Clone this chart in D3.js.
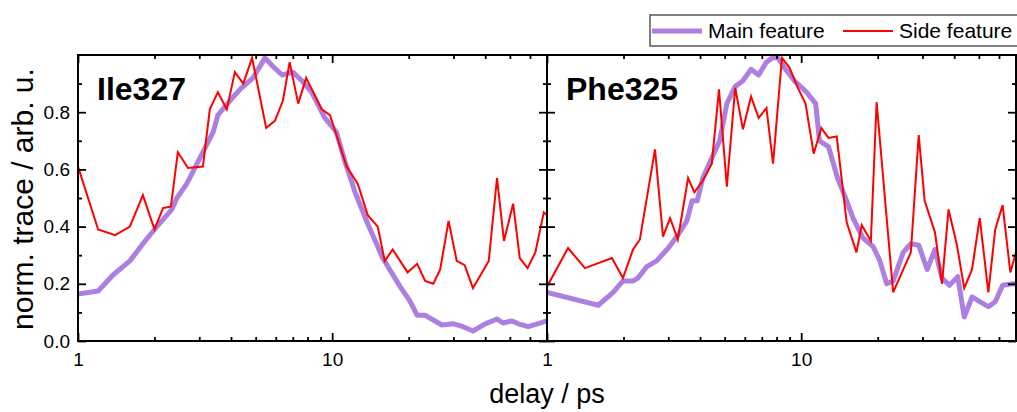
<!DOCTYPE html>
<html>
<head>
<meta charset="utf-8">
<script src="https://cdn.jsdelivr.net/npm/d3@7"></script>
<style>
body { margin: 0; background: #fff; }
svg { display: block; }
text { font-family: "Liberation Sans", Arial, sans-serif; fill: #000; }
</style>
</head>
<body>
<div id="root"></div>
<script>
// delay (ps), normalized trace
var ileMain = [[1,0.164],[1.2,0.175],[1.37,0.23],[1.6,0.28],[1.8,0.34],[2.0,0.39],[2.34,0.46],[2.45,0.50],[2.68,0.55],[2.94,0.62],
  [3.4,0.73],[3.55,0.79],[3.96,0.84],[4.34,0.88],[4.88,0.92],[5.44,0.99],[5.85,0.96],[6.35,0.93],[7.0,0.94],[7.6,0.91],
  [8.3,0.87],[9.35,0.78],[10.4,0.73],[11.2,0.63],[12.3,0.52],[13.8,0.41],[15.8,0.29],[18.5,0.19],[20.2,0.14],[21.6,0.09],
  [23.2,0.09],[27,0.056],[30,0.06],[32.8,0.05],[35.8,0.035],[40,0.06],[44.5,0.077],[47,0.063],[51,0.07],[54,0.06],[59,0.05],[70,0.07]];
var ileSide = [[1,0.61],[1.2,0.39],[1.4,0.37],[1.6,0.40],[1.8,0.51],[2.0,0.39],[2.16,0.465],[2.32,0.47],[2.47,0.66],[2.71,0.605],
  [3.1,0.61],[3.3,0.81],[3.55,0.87],[3.85,0.81],[4.14,0.94],[4.47,0.90],[4.84,0.99],[5.5,0.745],[5.95,0.77],[6.4,0.84],
  [6.8,0.975],[7.35,0.83],[7.9,0.92],[9.1,0.81],[9.8,0.79],[11.4,0.61],[12.6,0.55],[13.8,0.44],[15.1,0.40],[16.1,0.28],
  [17.3,0.32],[19.8,0.24],[21.6,0.27],[23.2,0.21],[25,0.20],[26.6,0.25],[28.7,0.42],[30.9,0.28],[33.2,0.265],[35.8,0.185],
  [41.3,0.28],[44.5,0.57],[47.4,0.35],[51.5,0.48],[54.7,0.29],[58.7,0.255],[63,0.31],[68,0.45],[70,0.44]];
var pheMain = [[1,0.17],[1.59,0.125],[1.82,0.17],[1.99,0.21],[2.18,0.21],[2.28,0.22],[2.47,0.26],[2.7,0.28],[3.0,0.325],[3.27,0.37],
  [3.55,0.42],[3.72,0.49],[3.9,0.49],[4.1,0.57],[4.45,0.64],[4.78,0.70],[5.1,0.83],[5.5,0.89],[5.9,0.91],[6.35,0.95],
  [6.8,0.93],[7.3,0.975],[7.7,0.99],[8.1,0.99],[8.6,0.955],[9.4,0.91],[10.5,0.87],[11.4,0.83],[11.8,0.70],[12.8,0.68],
  [13.9,0.57],[15.1,0.49],[16,0.43],[17.5,0.36],[19.2,0.33],[20.4,0.28],[21.7,0.20],[23,0.21],[25.2,0.31],[27,0.34],
  [29,0.335],[31.3,0.25],[33.6,0.32],[35.8,0.22],[38.3,0.195],[41.3,0.225],[43.8,0.084],[47,0.154],[50.8,0.136],[54.5,0.12],
  [58,0.137],[62,0.195],[68,0.2],[70,0.2]];
var pheSide = [[1,0.19],[1.21,0.325],[1.41,0.255],[1.8,0.29],[1.99,0.22],[2.18,0.32],[2.32,0.355],[2.66,0.67],[2.86,0.365],[3.05,0.43],
  [3.27,0.355],[3.59,0.57],[3.8,0.52],[4.1,0.56],[4.45,0.62],[4.75,0.88],[5.1,0.54],[5.5,0.885],[5.9,0.74],[6.35,0.855],
  [6.8,0.78],[7.3,0.815],[7.75,0.62],[8.4,0.99],[9.0,0.955],[9.7,0.885],[10.4,0.83],[11.2,0.655],[12.0,0.745],[12.8,0.71],
  [13.8,0.715],[15.1,0.415],[16.5,0.31],[17.3,0.405],[18.8,0.35],[19.8,0.835],[23,0.17],[27,0.31],[29,0.72],[30.6,0.49],
  [33.6,0.38],[35.8,0.20],[38,0.46],[41,0.335],[43.8,0.185],[47,0.25],[50.4,0.43],[54.5,0.17],[58,0.39],[62,0.475],
  [66.5,0.24],[70,0.31]];

var panelNames = ["Ile327", "Phe325"];
var seriesNames = ["Main feature", "Side feature"];
var xMajor = [1, 10];
var xMinor = [2, 3, 4, 5, 6, 7, 8, 9, 20, 30, 40, 50, 60];
var yMajor = [0, 0.2, 0.4, 0.6, 0.8];
var yMinor = [0.1, 0.3, 0.5, 0.7, 0.9];

var mainColor = "#ad7fe0", sideColor = "#ff0000";
var top_ = 55, bottom = 341;
var panelX = [[78, 547], [547, 1016]];
var panelData = [[ileMain, ileSide], [pheMain, pheSide]];

var svg = d3.select("#root").append("svg")
  .attr("width", 1017).attr("height", 412);

var y = d3.scaleLinear().domain([0, 1]).range([bottom, top_]);

function styleAxis(g, labels) {
  g.select(".domain").remove();
  g.selectAll(".tick line").attr("stroke", "#000").attr("stroke-width", 1.8);
  g.selectAll(".tick text").attr("font-size", 19).attr("fill", "#000")
    .style("font-family", '"Liberation Sans", Arial, sans-serif');
  if (!labels) g.selectAll(".tick text").remove();
}

panelData.forEach(function (series, i) {
  var x = d3.scaleLog().domain([1, 70]).range(panelX[i]);
  var g = svg.append("g");

  var clipId = "clip" + i;
  svg.append("clipPath").attr("id", clipId).append("rect")
    .attr("x", panelX[i][0]).attr("y", top_ - 3)
    .attr("width", panelX[i][1] - panelX[i][0]).attr("height", bottom - top_ + 3);

  var line = d3.line().x(function (d) { return x(d[0]); }).y(function (d) { return y(d[1]); });
  var lines = g.append("g").attr("clip-path", "url(#" + clipId + ")");
  lines.append("path").datum(series[0]).attr("d", line)
    .attr("fill", "none").attr("stroke", mainColor).attr("stroke-width", 5)
    .attr("stroke-linejoin", "round");
  lines.append("path").datum(series[1]).attr("d", line)
    .attr("fill", "none").attr("stroke", sideColor).attr("stroke-width", 2)
    .attr("stroke-linejoin", "miter");

  // x axes (bottom + top), ticks inward
  g.append("g").attr("transform", "translate(0," + bottom + ")")
    .call(d3.axisBottom(x).tickValues(xMajor).tickSize(-8).tickPadding(12).tickFormat(d3.format("d")))
    .call(styleAxis, true);
  g.append("g").attr("transform", "translate(0," + bottom + ")")
    .call(d3.axisBottom(x).tickValues(xMinor).tickSize(-4))
    .call(styleAxis, false);
  g.append("g").attr("transform", "translate(0," + top_ + ")")
    .call(d3.axisTop(x).tickValues(xMajor).tickSize(-8))
    .call(styleAxis, false);
  g.append("g").attr("transform", "translate(0," + top_ + ")")
    .call(d3.axisTop(x).tickValues(xMinor).tickSize(-4))
    .call(styleAxis, false);

  // y axes (left + right), ticks inward
  g.append("g").attr("transform", "translate(" + panelX[i][0] + ",0)")
    .call(d3.axisLeft(y).tickValues(yMajor).tickSize(-8).tickPadding(8).tickFormat(d3.format(".1f")))
    .call(styleAxis, i === 0);
  g.append("g").attr("transform", "translate(" + panelX[i][0] + ",0)")
    .call(d3.axisLeft(y).tickValues(yMinor).tickSize(-4))
    .call(styleAxis, false);
  g.append("g").attr("transform", "translate(" + panelX[i][1] + ",0)")
    .call(d3.axisRight(y).tickValues(yMajor).tickSize(-8))
    .call(styleAxis, false);
  g.append("g").attr("transform", "translate(" + panelX[i][1] + ",0)")
    .call(d3.axisRight(y).tickValues(yMinor).tickSize(-4))
    .call(styleAxis, false);

  g.append("rect")
    .attr("x", panelX[i][0]).attr("y", top_)
    .attr("width", panelX[i][1] - panelX[i][0]).attr("height", bottom - top_)
    .attr("fill", "none").attr("stroke", "#000").attr("stroke-width", 2);

  g.append("text").attr("x", panelX[i][0] + 19).attr("y", 100)
    .attr("font-size", 32).attr("font-weight", "bold").text(panelNames[i]);
});

// axis titles
svg.append("text").attr("x", 547).attr("y", 403).attr("text-anchor", "middle")
  .attr("font-size", 27).text("delay / ps");
svg.append("text").attr("transform", "translate(33,199) rotate(-90)").attr("text-anchor", "middle")
  .attr("font-size", 30).text("norm. trace / arb. u.");

// legend
var leg = svg.append("g");
leg.append("rect").attr("x", 650).attr("y", 15).attr("width", 380).attr("height", 31)
  .attr("fill", "#fff").attr("stroke", "#555").attr("stroke-width", 1.5);
var legX = [652, 843];
var legColor = [mainColor, sideColor];
var legWidth = [5, 2];
seriesNames.forEach(function (name, k) {
  leg.append("line").attr("x1", legX[k]).attr("x2", legX[k] + 50).attr("y1", 31).attr("y2", 31)
    .attr("stroke", legColor[k]).attr("stroke-width", legWidth[k]);
  leg.append("text").attr("x", legX[k] + 56).attr("y", 38).attr("font-size", 21).text(name);
});
</script>
</body>
</html>
